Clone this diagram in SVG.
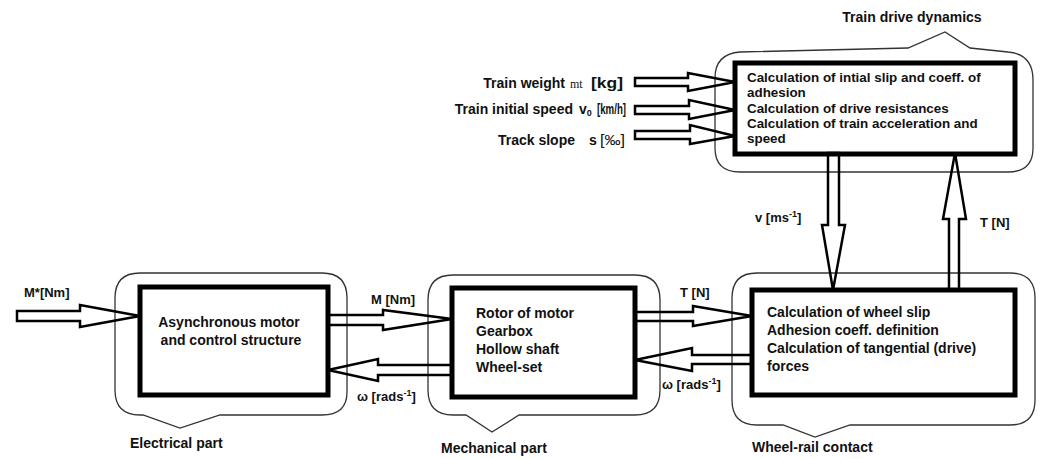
<svg xmlns="http://www.w3.org/2000/svg" width="1042" height="459" viewBox="0 0 1042 459">
<style>
.bubble{fill:none;stroke:#333;stroke-width:1.3}
.box{fill:#fff;stroke:#000;stroke-width:5}
.arr{fill:none;stroke:#000;stroke-width:2.5;stroke-linejoin:miter}
text{font-family:"Liberation Sans",Arial,sans-serif;font-weight:bold;fill:#111}
.t14{font-size:14px}
.t13{font-size:13.4px}
.lbl{font-size:13px}
</style>
<rect width="1042" height="459" fill="#fff"/>

<g id="train-dynamics">
<path class="bubble" d="M740,52 L908,48 L945,32 L970,48 L1008,52 Q1033,54 1033,80 V148 Q1033,172 1008,172 H740 Q715,172 715,148 V78 Q715,54 740,52 Z"/>
<rect class="box" x="735" y="63" width="280" height="91"/>
<text class="t14" x="912" y="22" text-anchor="middle">Train drive dynamics</text>
<text class="t13" x="747" y="82">Calculation of intial slip and coeff. of</text>
<text class="t13" x="747" y="97">adhesion</text>
<text class="t13" x="747" y="113">Calculation of drive resistances</text>
<text class="t13" x="747" y="128">Calculation of train acceleration and</text>
<text class="t13" x="747" y="143">speed</text>
</g>

<g id="inputs">
<text class="t14" x="565" y="88" text-anchor="end">Train weight</text>
<text x="570" y="88" style="font-family:'Liberation Serif',serif;font-weight:normal;font-size:12px">mt</text>
<text class="t14" x="591" y="88" textLength="32" lengthAdjust="spacingAndGlyphs">[kg]</text>
<text class="t14" x="573" y="114" text-anchor="end">Train initial speed</text>
<text class="t14" x="579" y="114">v<tspan font-size="9" dy="2">0</tspan></text>
<text class="t14" x="597" y="114" textLength="29" lengthAdjust="spacingAndGlyphs">[km/h]</text>
<text class="t14" x="575" y="145" text-anchor="end">Track slope</text>
<text class="t14" x="589" y="145">s</text>
<text x="600" y="145" textLength="25" lengthAdjust="spacingAndGlyphs" style="font-weight:normal;font-size:14px">[‰]</text>
</g>

<g id="electrical">
<path class="bubble" d="M140,273 H322 Q347,273 347,298 V392 Q347,415 322,415 H220 L180,428 L143,415 H140 Q115,415 115,390 V298 Q115,273 140,273 Z"/>
<rect class="box" x="140" y="287" width="188" height="108"/>
<text class="t14" x="229" y="327" text-anchor="middle">Asynchronous motor</text>
<text class="t14" x="231" y="345" text-anchor="middle">and control structure</text>
<text class="t14" x="130" y="448">Electrical part</text>
</g>

<g id="mechanical">
<path class="bubble" d="M453,275 H635 Q660,275 660,300 V390 Q660,415 635,415 H519 L492,432 L466,415 H453 Q428,415 428,390 V300 Q428,275 453,275 Z"/>
<rect class="box" x="452" y="288" width="183" height="109"/>
<text class="t14" x="476" y="318">Rotor of motor</text>
<text class="t14" x="476" y="336">Gearbox</text>
<text class="t14" x="476" y="354">Hollow shaft</text>
<text class="t14" x="476" y="372">Wheel-set</text>
<text class="t14" x="441" y="453">Mechanical part</text>
</g>

<g id="wheel-rail">
<path class="bubble" d="M757,273 H1010 Q1035,273 1035,298 V400 Q1035,425 1010,425 H850 L815,437 L783,425 H757 Q732,425 732,400 V298 Q732,273 757,273 Z"/>
<rect class="box" x="752" y="290" width="263" height="105"/>
<text class="t14" x="767" y="317">Calculation of wheel slip</text>
<text class="t14" x="767" y="335">Adhesion coeff. definition</text>
<text class="t14" x="767" y="353">Calculation of tangential (drive)</text>
<text class="t14" x="767" y="371">forces</text>
<text class="t14" x="752" y="452">Wheel-rail contact</text>
</g>

<g id="connectors">
<polygon class="arr" points="17,311 80,311 80,305 140,316 80,327 80,321 17,321"/>
<polygon class="arr" points="328,315 383,315 383,310 452,319 383,330 383,325 328,325"/>
<polygon class="arr" points="452,365 378,365 378,359 328,370 378,381 378,375 452,375"/>
<polygon class="arr" points="635,312 693,312 693,306 752,316 693,326 693,321 635,321"/>
<polygon class="arr" points="752,355 692,355 692,348 635,360 692,371 692,364 752,364"/>
<polygon class="arr" points="828,153 828,225 822,225 833,290 845,225 839,225 839,153"/>
<polygon class="arr" points="949,290 949,219 943,219 955,153 966,219 959,219 959,290"/>
<polygon class="arr" points="635,78 688,78 688,73 735,82 688,91 688,86 635,86"/>
<polygon class="arr" points="635,106 689,106 689,100 735,110 689,119 689,114 635,114"/>
<polygon class="arr" points="635,131 690,131 690,125 735,136 690,144 690,139 635,139"/>
<text class="lbl" x="24" y="297">M*[Nm]</text>
<text class="lbl" x="371" y="304">M [Nm]</text>
<text class="lbl" x="357" y="401">ω [rads<tspan font-size="9" dy="-5">-1</tspan><tspan dy="5">]</tspan></text>
<text class="lbl" x="680" y="297">T [N]</text>
<text class="lbl" x="662" y="389">ω [rads<tspan font-size="9" dy="-5">-1</tspan><tspan dy="5">]</tspan></text>
<text class="lbl" x="755" y="222">v [ms<tspan font-size="9" dy="-5">-1</tspan><tspan dy="5">]</tspan></text>
<text class="lbl" x="980" y="227">T [N]</text>
</g>
</svg>
